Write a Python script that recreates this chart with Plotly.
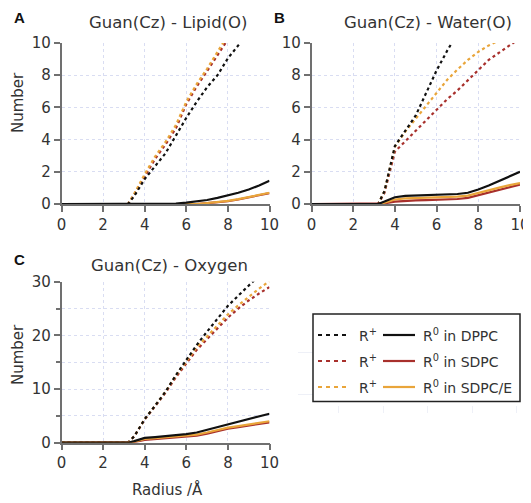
import plotly.graph_objects as go

# page has an 8px body margin: the figure is drawn at (8, 8)
OFF = 8
W, H = 531 - OFF, 503 - OFF

# radius grid (Å)
radius = [0, 3.2, 3.5, 4, 4.5, 5, 5.5, 6, 6.5, 7, 7.5, 8, 8.5, 9, 9.5, 10]

# Panel A: Guan(Cz) - Lipid(O)
A_plus_dppc  = [0, 0, 0.5, 1.55, 2.35, 3.15, 4.25, 5.35, 6.35, 7.25, 8.0, 9.05, 9.85, 10.6, 11.4, 12.2]
A_plus_sdpc  = [0, 0, 0.6, 1.7, 2.8, 3.7, 4.7, 6.2, 7.3, 8.25, 9.3, 10.4, 11.4, 12.3, 13.2, 14.0]
A_plus_sdpce = [0, 0, 0.65, 1.85, 2.95, 3.85, 4.9, 6.35, 7.45, 8.4, 9.45, 10.55, 11.5, 12.4, 13.3, 14.1]
A_zero_dppc  = [0, 0, 0, 0, 0, 0, 0.03, 0.08, 0.15, 0.25, 0.38, 0.52, 0.7, 0.9, 1.15, 1.45]
A_zero_sdpc  = [0, 0, 0, 0, 0, 0, 0, 0, 0, 0.05, 0.1, 0.17, 0.28, 0.4, 0.55, 0.68]
A_zero_sdpce = [0, 0, 0, 0, 0, 0, 0, 0, 0, 0.06, 0.11, 0.19, 0.3, 0.42, 0.57, 0.7]

# Panel B: Guan(Cz) - Water(O)
B_plus_dppc  = [0, 0, 0.8, 3.6, 4.55, 5.5, 6.9, 8.3, 9.5, 10.7, 11.8, 12.9, 13.9, 14.9, 15.9, 16.9]
B_plus_sdpc  = [0, 0, 0.7, 3.25, 3.9, 4.55, 5.15, 5.8, 6.5, 7.05, 7.7, 8.3, 8.95, 9.4, 9.85, 10.3]
B_plus_sdpce = [0, 0, 0.8, 3.55, 4.5, 5.3, 6.15, 6.95, 7.7, 8.35, 8.95, 9.45, 9.85, 10.15, 10.45, 10.7]
B_zero_dppc  = [0, 0, 0.15, 0.42, 0.5, 0.52, 0.54, 0.56, 0.58, 0.62, 0.7, 0.9, 1.15, 1.42, 1.7, 2.0]
B_zero_sdpc  = [0, 0, 0.04, 0.15, 0.2, 0.22, 0.24, 0.26, 0.28, 0.31, 0.38, 0.55, 0.72, 0.88, 1.03, 1.2]
B_zero_sdpce = [0, 0, 0.08, 0.28, 0.35, 0.37, 0.39, 0.41, 0.43, 0.46, 0.52, 0.7, 0.88, 1.02, 1.17, 1.3]

# Panel C: Guan(Cz) - Oxygen
C_plus_dppc  = [0, 0, 1.2, 4.4, 6.9, 9.5, 12.6, 15.4, 18.2, 20.7, 23.2, 25.5, 27.4, 29.3, 31.0, 33.0]
C_plus_sdpc  = [0, 0, 1.2, 4.3, 6.8, 9.3, 12.2, 14.8, 17.3, 19.3, 21.3, 23.3, 25.0, 26.5, 27.8, 29.0]
C_plus_sdpce = [0, 0, 1.2, 4.4, 6.9, 9.5, 12.5, 15.2, 17.8, 19.8, 21.8, 23.9, 25.6, 27.2, 28.7, 30.1]
C_zero_dppc  = [0, 0, 0.3, 0.9, 1.05, 1.2, 1.4, 1.6, 1.9, 2.4, 3.0, 3.5, 3.95, 4.4, 4.9, 5.4]
C_zero_sdpc  = [0, 0, 0.12, 0.5, 0.65, 0.8, 0.9, 1.05, 1.3, 1.7, 2.2, 2.6, 2.9, 3.2, 3.5, 3.8]
C_zero_sdpce = [0, 0, 0.2, 0.7, 0.85, 1.0, 1.1, 1.25, 1.5, 1.9, 2.4, 2.8, 3.1, 3.4, 3.7, 4.0]

panel_titles = ["Guan(Cz) - Lipid(O)", "Guan(Cz) - Water(O)", "Guan(Cz) - Oxygen"]
panel_letters = ["A", "B", "C"]
systems = ["DPPC", "SDPC", "SDPC/E"]
colors = {"DPPC": "#111111", "SDPC": "#a8302c", "SDPC/E": "#e9a53a"}

FONT = "DejaVu Sans"
TXT = "#333333"
AX = "#707070"
GRID = "#d9ddf2"
GHOST = "#eef0f7"


def px(x):
    return (x - OFF) / W


def py(y):
    return 1 - (y - OFF) / H


fig = go.Figure()

panels = [
    ("x", "y", {"SDPC": (A_plus_sdpc, A_zero_sdpc), "SDPC/E": (A_plus_sdpce, A_zero_sdpce), "DPPC": (A_plus_dppc, A_zero_dppc)}),
    ("x2", "y2", {"SDPC": (B_plus_sdpc, B_zero_sdpc), "SDPC/E": (B_plus_sdpce, B_zero_sdpce), "DPPC": (B_plus_dppc, B_zero_dppc)}),
    ("x3", "y3", {"SDPC": (C_plus_sdpc, C_zero_sdpc), "SDPC/E": (C_plus_sdpce, C_zero_sdpce), "DPPC": (C_plus_dppc, C_zero_dppc)}),
]
order = ["SDPC", "SDPC/E", "DPPC"]
for xa, ya, data in panels:
    for s in order:
        fig.add_trace(go.Scatter(x=radius, y=data[s][0], xaxis=xa, yaxis=ya, mode="lines",
                                 line=dict(color=colors[s], width=2.2, dash="3px,3px"),
                                 showlegend=False, hoverinfo="skip"))
    for s in order:
        fig.add_trace(go.Scatter(x=radius, y=data[s][1], xaxis=xa, yaxis=ya, mode="lines",
                                 line=dict(color=colors[s], width=2.2),
                                 showlegend=False, hoverinfo="skip"))

# faint empty panel behind the legend
fig.add_trace(go.Scatter(x=[None], y=[None], xaxis="x4", yaxis="y4", mode="lines",
                         showlegend=False, hoverinfo="skip"))

xdomA = [px(61.5), px(269.5)]
xdomB = [px(311.5), px(520)]
ydomAB = [py(204), py(43)]
ydomC = [py(442.7), py(281.7)]

axcommon = dict(showline=True, linecolor=AX, linewidth=1.5, ticks="outside", ticklen=6,
                tickcolor=AX, tickwidth=1.5, showgrid=True, gridcolor=GRID, griddash="dot",
                gridwidth=1, zeroline=False, automargin=False,
                tickfont=dict(family=FONT, size=15, color=TXT))

fig.update_layout(
    template="none",
    width=W, height=H, margin=dict(l=0, r=0, t=0, b=0, autoexpand=False),
    paper_bgcolor="white", plot_bgcolor="white",
    font=dict(family=FONT, color=TXT),
    xaxis=dict(domain=xdomA, anchor="y", range=[0, 10], dtick=2, **axcommon),
    yaxis=dict(domain=ydomAB, anchor="x", range=[0, 10], dtick=2, **axcommon),
    xaxis2=dict(domain=xdomB, anchor="y2", range=[0, 10], dtick=2, **axcommon),
    yaxis2=dict(domain=ydomAB, anchor="x2", range=[0, 10], dtick=2, **axcommon),
    xaxis3=dict(domain=xdomA, anchor="y3", range=[0, 10], dtick=2, **axcommon),
    yaxis3=dict(domain=ydomC, anchor="x3", range=[0, 30], dtick=10,
                minor=dict(dtick=5, ticks="outside", ticklen=4, tickcolor=AX, showgrid=True,
                           gridcolor=GRID, griddash="dot"), **axcommon),
    xaxis4=dict(domain=[px(298), px(520)], anchor="y4", range=[0.08, 5.07], tickvals=[1, 2, 3, 4, 5],
                showticklabels=False, ticks="outside", ticklen=7, tickcolor=GHOST, showline=False,
                showgrid=False, zeroline=False, automargin=False),
    yaxis4=dict(domain=[py(405), py(311)], anchor="x4", range=[0.735, 3], tickvals=[1, 2, 3],
                showticklabels=False, ticks="", showline=False, showgrid=True, gridcolor=GHOST,
                zeroline=False, automargin=False),
)

ann = []
title_pos = [(168, 23), (428, 23), (169, 265)]
letter_pos = [(19, 17), (279, 17), (19, 260)]
for t, (x, y) in zip(panel_titles, title_pos):
    ann.append(dict(x=px(x), y=py(y), xref="paper", yref="paper", text=t, showarrow=False,
                    font=dict(family=FONT, size=16.5, color=TXT), xanchor="center", yanchor="middle"))
for t, (x, y) in zip(panel_letters, letter_pos):
    ann.append(dict(x=px(x), y=py(y), xref="paper", yref="paper", text="<b>%s</b>" % t, showarrow=False,
                    borderpad=0, font=dict(family="Liberation Sans", size=15, color="#111111"),
                    xanchor="center", yanchor="middle"))
for y in (103, 355):
    ann.append(dict(x=px(18), y=py(y), xref="paper", yref="paper", text="Number", showarrow=False,
                    textangle=-90, font=dict(family=FONT, size=15, color=TXT), xanchor="center", yanchor="middle"))
ann.append(dict(x=px(167), y=py(489), xref="paper", yref="paper", text="Radius /Å", showarrow=False,
                font=dict(family=FONT, size=15, color=TXT), xanchor="center", yanchor="middle"))

# legend box
shapes = [dict(type="rect", xref="paper", yref="paper", x0=px(313), x1=px(520), y0=py(401.5), y1=py(314),
               line=dict(color="#222222", width=1.5), fillcolor="white")]
rows = [335, 361, 387]
for s, yy in zip(systems, rows):
    shapes.append(dict(type="line", xref="paper", yref="paper", x0=px(318), x1=px(350), y0=py(yy), y1=py(yy),
                       line=dict(color=colors[s], width=2.2, dash="4px,4px")))
    shapes.append(dict(type="line", xref="paper", yref="paper", x0=px(383), x1=px(415), y0=py(yy), y1=py(yy),
                       line=dict(color=colors[s], width=2.2)))
    ann.append(dict(x=px(357), y=py(yy), xref="paper", yref="paper", text="R<sup>+</sup>", showarrow=False,
                    font=dict(family=FONT, size=14, color=TXT), xanchor="left", yanchor="middle"))
    ann.append(dict(x=px(421), y=py(yy), xref="paper", yref="paper", text="R<sup>0</sup> in %s" % s,
                    showarrow=False, font=dict(family=FONT, size=14, color=TXT), xanchor="left", yanchor="middle"))

fig.update_layout(annotations=ann, shapes=shapes)
fig.write_html("out.html")
